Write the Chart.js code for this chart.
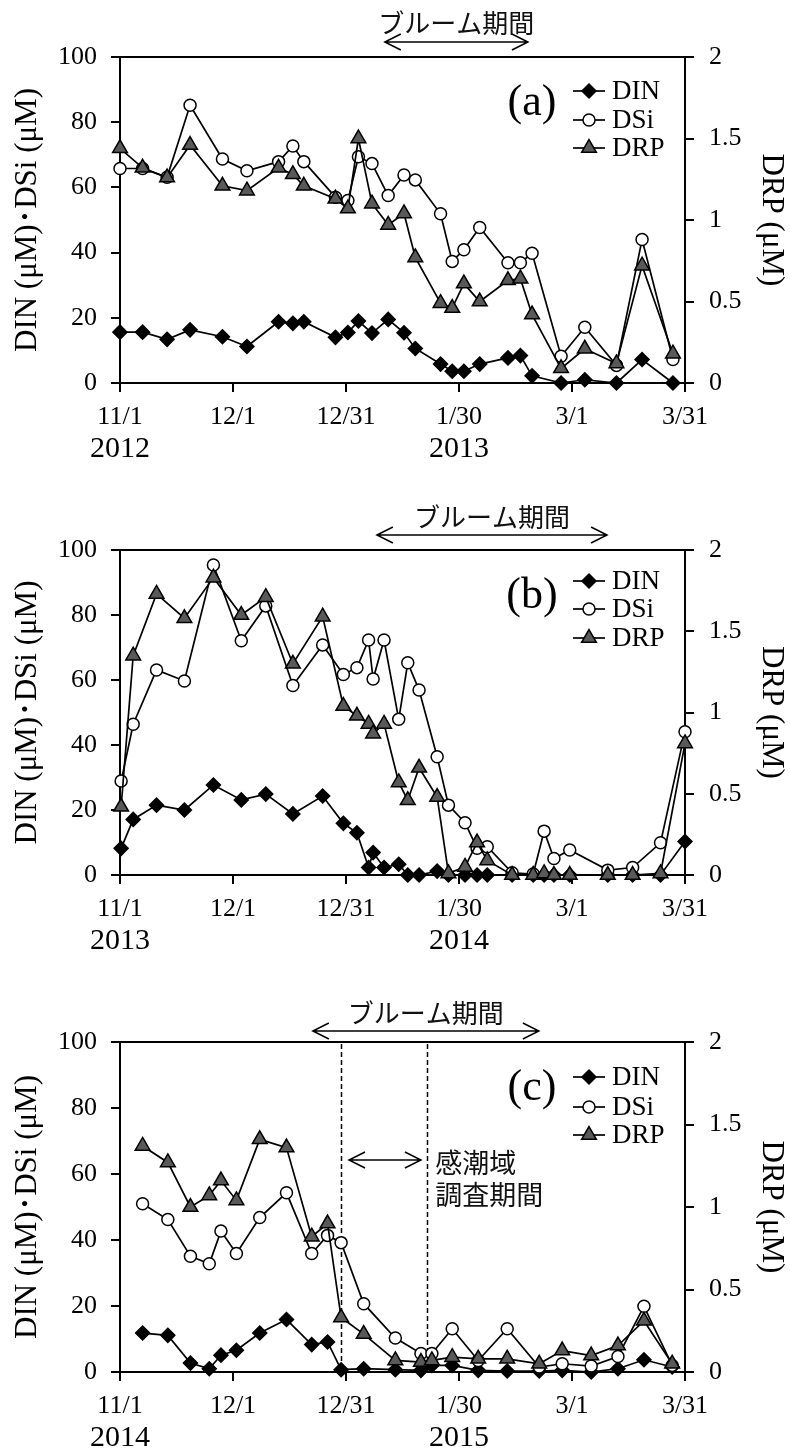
<!DOCTYPE html>
<html><head><meta charset="utf-8">
<script src="https://cdn.jsdelivr.net/npm/chart.js@4.4.0/dist/chart.umd.min.js"></script>
<style>
html,body{margin:0;padding:0;background:#fff;}
body{width:790px;height:1450px;position:relative;overflow:hidden;}
canvas{position:absolute;left:0;}
</style></head><body>
<canvas id="ca" width="790" height="493" style="top:0px"></canvas>
<canvas id="cb" width="790" height="492" style="top:493px"></canvas>
<canvas id="cc" width="790" height="465" style="top:985px"></canvas>
<script>
// ---------- data ----------
const xTickDays = [0, 30, 60, 90, 120, 150];
const xTickLabels = ['11/1', '12/1', '12/31', '1/30', '3/1', '3/31'];
const seriesNames = ['DIN', 'DSi', 'DRP'];
const leftTitle = 'DIN (μM)･DSi (μM)';
const rightTitle = 'DRP (μM)';
const bloomLabel = 'ブルーム期間';
const surveyLabel = ['感潮域', '調査期間'];

// panel (a) 2012-2013 : days since 11/1
const yearsA = ['2012', '2013'];
const daysA = [0, 6, 12.5, 18.6, 27.2, 33.7, 42.1, 45.9, 48.8, 57.2, 60.5, 63.3, 66.9, 71.2, 75.4, 78.4, 85.1, 88.2, 91.3, 95.5, 103, 106.3, 109.4, 117.1, 123.4, 131.8, 138.6, 146.8];
const dinA = [15.6, 15.6, 13.4, 16.3, 14.2, 11.2, 18.8, 18.3, 18.8, 14.0, 15.5, 19.0, 15.3, 19.5, 15.4, 10.6, 5.8, 3.6, 3.6, 5.8, 7.7, 8.4, 2.2, 0, 1.0, 0, 7.2, 0];
const dsiA = [65.8, 65.8, 63.1, 85.2, 68.7, 65.1, 67.9, 72.7, 67.9, 57.0, 56.0, 69.4, 67.3, 57.5, 63.8, 62.3, 51.9, 37.3, 40.9, 47.7, 36.9, 36.9, 39.8, 8.2, 17.1, 5.4, 44.0, 7.2];
const drpA = [1.44, 1.32, 1.26, 1.46, 1.21, 1.18, 1.32, 1.28, 1.21, 1.13, 1.07, 1.50, 1.10, 0.97, 1.04, 0.77, 0.49, 0.46, 0.61, 0.50, 0.63, 0.64, 0.42, 0.09, 0.21, 0.12, 0.72, 0.18];
const bloomA = [70.3, 108.3];

// panel (b) 2013-2014
const yearsB = ['2013', '2014'];
const daysB = [0.3, 3.5, 9.7, 17.1, 24.8, 32.2, 38.7, 45.9, 53.8, 59.3, 62.9, 66, 67.2, 70.1, 74, 76.4, 79.4, 84.2, 87.2, 91.6, 94.8, 97.5, 104.1, 109.7, 112.6, 115.2, 119.4, 129.5, 136.1, 143.5, 150];
const dinB = [8.2, 17.1, 21.5, 20.0, 27.7, 23.1, 24.9, 18.8, 24.3, 15.9, 13.0, 2.3, 6.9, 2.3, 3.3, 0, 0, 1.2, 0, 0, 0, 0, 0, 0, 0, 0, 0, 0, 0, 0, 10.3];
const dsiB = [28.9, 46.4, 63.1, 59.7, 95.4, 72.1, 82.8, 58.3, 70.8, 61.7, 63.8, 72.3, 60.3, 72.3, 47.9, 65.3, 56.9, 36.4, 21.5, 16.1, 8.2, 8.7, 0.7, 0.3, 13.5, 5.1, 7.7, 1.5, 2.3, 9.9, 44.1];
const drpB = [0.42, 1.35, 1.73, 1.58, 1.83, 1.60, 1.71, 1.30, 1.59, 1.04, 0.98, 0.93, 0.87, 0.93, 0.57, 0.46, 0.66, 0.48, 0.01, 0.05, 0.20, 0.09, 0, 0, 0.01, 0, 0, 0, 0, 0.01, 0.81];
const bloomB = [68.2, 129.3];

// panel (c) 2014-2015
const yearsC = ['2014', '2015'];
const daysC = [6, 12.7, 18.7, 23.7, 26.8, 30.9, 37.1, 44.2, 50.9, 55.1, 58.7, 64.7, 73.1, 79.9, 82.8, 88.2, 95.1, 102.8, 111.3, 117.4, 125.1, 132.2, 139.1, 146.6];
const dinC = [11.8, 11.1, 2.7, 1.0, 5.1, 6.6, 11.8, 15.9, 8.3, 9.1, 0.7, 1.0, 0.7, 0.5, 2.0, 2.0, 0.5, 0.3, 0.3, 0.5, 0, 1.0, 3.7, 1.5];
const dsiC = [51.0, 46.2, 35.1, 32.8, 42.7, 35.9, 46.8, 54.3, 35.9, 41.4, 39.2, 20.7, 10.3, 5.6, 5.6, 13.1, 3.5, 13.1, 1.5, 2.5, 1.8, 4.7, 19.9, 2.0];
const drpC = [1.37, 1.27, 1.00, 1.07, 1.16, 1.04, 1.41, 1.36, 0.82, 0.90, 0.33, 0.23, 0.07, 0.06, 0.07, 0.09, 0.08, 0.08, 0.05, 0.13, 0.10, 0.16, 0.31, 0.05];
const bloomC = [51.2, 111.2];
const surveyC = [58.7, 81.6];
const surveyArrowC = [60.8, 79.9];

// ---------- styling ----------
const SERIF = '"Liberation Serif", "Times New Roman", serif';
const CJK = '"Noto Sans CJK JP", sans-serif';
const styles = {
  DIN: { pointStyle: 'rectRot', radius: 7, fill: '#000' },
  DSi: { pointStyle: 'circle', radius: 6, fill: '#fff' },
  DRP: { pointStyle: 'triangle', radius: 8.5, fill: '#595959' }
};

function makeDatasets(days, din, dsi, drp) {
  const pts = arr => days.map((d, i) => ({ x: d, y: arr[i] }));
  const vals = { DIN: din, DSi: dsi, DRP: drp };
  const order = { DIN: 2, DSi: 1, DRP: 0 };
  return seriesNames.map(n => ({
    label: n,
    data: pts(vals[n]),
    yAxisID: n === 'DRP' ? 'y2' : 'y',
    borderColor: '#000', borderWidth: 1.7, tension: 0,
    pointStyle: styles[n].pointStyle,
    pointRadius: styles[n].radius,
    pointBackgroundColor: styles[n].fill,
    pointBorderColor: '#000', pointBorderWidth: 1.5,
    clip: false, order: order[n]
  }));
}

function arrow(ctx, x1, x2, y, hl, hh) {
  ctx.beginPath();
  ctx.moveTo(x1, y); ctx.lineTo(x2, y);
  ctx.moveTo(x1 + hl, y - hh); ctx.lineTo(x1, y); ctx.lineTo(x1 + hl, y + hh);
  ctx.moveTo(x2 - hl, y - hh); ctx.lineTo(x2, y); ctx.lineTo(x2 - hl, y + hh);
  ctx.stroke();
}

const decoPlugin = {
  id: 'deco',
  beforeDatasetsDraw(chart, args, o) {
    if (!o.survey) return;
    const { ctx, chartArea: ca, scales } = chart;
    ctx.save();
    ctx.strokeStyle = '#000'; ctx.lineWidth = 1.5; ctx.setLineDash([5, 3]);
    o.survey.forEach(d => {
      const x = Math.round(scales.x.getPixelForValue(d)) + 0.5;
      ctx.beginPath(); ctx.moveTo(x, ca.top + 2); ctx.lineTo(x, ca.bottom); ctx.stroke();
    });
    ctx.restore();
  },
  afterDraw(chart, args, o) {
    const { ctx, chartArea: ca, scales } = chart;
    const sx = scales.x;
    ctx.save();
    // bloom arrow + text
    ctx.strokeStyle = '#000'; ctx.lineWidth = 1.5;
    const bx1 = sx.getPixelForValue(o.bloom[0]), bx2 = sx.getPixelForValue(o.bloom[1]);
    arrow(ctx, bx1, bx2, ca.top - o.arrowDy, 16, 8);
    ctx.fillStyle = '#111';
    ctx.font = '26px ' + CJK;
    ctx.textAlign = 'center'; ctx.textBaseline = 'middle';
    ctx.fillText(bloomLabel, (bx1 + bx2) / 2, ca.top - o.textDy);
    // survey period
    if (o.survey) {
      const ax1 = sx.getPixelForValue(o.surveyArrow[0]), ax2 = sx.getPixelForValue(o.surveyArrow[1]);
      arrow(ctx, ax1, ax2, ca.top + 118, 16, 8);
      ctx.font = '27px ' + CJK;
      ctx.textAlign = 'left';
      const tx = sx.getPixelForValue(o.survey[1]) + 8;
      ctx.fillText(surveyLabel[0], tx, ca.top + 121);
      ctx.fillText(surveyLabel[1], tx, ca.top + 153);
    }
    // panel letter
    ctx.fillStyle = '#000';
    ctx.font = '44px ' + SERIF;
    ctx.textAlign = 'center'; ctx.textBaseline = 'middle';
    ctx.fillText(o.letter, 532, ca.top + 46);
    // legend
    seriesNames.forEach((n, i) => {
      const y = ca.top + o.legendY[i];
      ctx.strokeStyle = '#000'; ctx.lineWidth = 1.7; ctx.setLineDash([]);
      ctx.beginPath(); ctx.moveTo(573, y); ctx.lineTo(605, y); ctx.stroke();
      ctx.fillStyle = styles[n].fill; ctx.lineWidth = 1.5;
      Chart.helpers.drawPoint(ctx, { pointStyle: styles[n].pointStyle, radius: styles[n].radius, rotation: 0, borderWidth: 1.5 }, 589, y);
      ctx.fillStyle = '#000';
      ctx.font = '27px ' + SERIF;
      ctx.textAlign = 'left'; ctx.textBaseline = 'middle';
      ctx.fillText(n, 612, y + 1);
    });
    // years
    ctx.font = '30px ' + SERIF;
    ctx.textAlign = 'center'; ctx.textBaseline = 'alphabetic';
    ctx.fillText(o.years[0], sx.getPixelForValue(xTickDays[0]), ca.bottom + 74);
    ctx.fillText(o.years[1], sx.getPixelForValue(xTickDays[3]), ca.bottom + 74);
    ctx.restore();
  }
};

function makePanel(id, datasets, deco, xAxisH) {
  const tickFont = { family: SERIF, size: 26 };
  new Chart(document.getElementById(id), {
    type: 'line',
    data: { datasets },
    plugins: [decoPlugin],
    options: {
      responsive: false, animation: false, events: [],
      layout: { padding: { top: 57, left: 0, right: 0, bottom: 0 } },
      plugins: { legend: { display: false }, tooltip: { enabled: false }, deco },
      scales: {
        x: {
          type: 'linear', min: 0, max: 150, position: 'bottom',
          afterFit: s => { s.height = xAxisH; },
          afterBuildTicks: s => { s.ticks = xTickDays.map(v => ({ value: v })); },
          ticks: { color: '#000', font: tickFont, padding: 10, maxRotation: 0, autoSkip: false,
            callback: v => { const i = xTickDays.indexOf(v); return i >= 0 ? xTickLabels[i] : ''; } },
          grid: { drawOnChartArea: false, color: '#000', tickColor: '#000', tickLength: 9, tickWidth: 2, lineWidth: 2 },
          border: { display: true, color: '#000', width: 2 }
        },
        y: {
          position: 'left', min: 0, max: 100,
          afterFit: s => { s.width = 120; },
          ticks: { stepSize: 20, color: '#000', font: tickFont, padding: 14, callback: v => String(v) },
          grid: { drawOnChartArea: true, color: c => (c.tick && c.tick.value === 100) ? '#000' : 'rgba(0,0,0,0)',
            tickColor: '#000', tickLength: 9, tickWidth: 2, lineWidth: 2 },
          border: { display: true, color: '#000', width: 2 },
          title: { display: true, text: leftTitle, color: '#000', font: { family: SERIF + ', ' + CJK, size: 31, lineHeight: 1 }, padding: { top: 12, bottom: 0 } }
        },
        y2: {
          position: 'right', min: 0, max: 2,
          afterFit: s => { s.width = 105; },
          ticks: { stepSize: 0.5, color: '#000', font: tickFont, padding: 15, callback: v => String(v) },
          grid: { drawOnChartArea: false, color: '#000', tickColor: '#000', tickLength: 9, tickWidth: 2, lineWidth: 2 },
          border: { display: true, color: '#000', width: 2 },
          title: { display: true, text: rightTitle, color: '#000', font: { family: SERIF, size: 31, lineHeight: 1 }, padding: { top: 3, bottom: 0 } }
        }
      }
    }
  });
}

makePanel('ca', makeDatasets(daysA, dinA, dsiA, drpA),
  { letter: '(a)', bloom: bloomA, years: yearsA, legendY: [34, 63, 91], arrowDy: 15, textDy: 34 }, 110);
makePanel('cb', makeDatasets(daysB, dinB, dsiB, drpB),
  { letter: '(b)', bloom: bloomB, years: yearsB, legendY: [31, 59, 88], arrowDy: 15, textDy: 33 }, 110);
makePanel('cc', makeDatasets(daysC, dinC, dsiC, drpC),
  { letter: '(c)', bloom: bloomC, years: yearsC, legendY: [35, 65, 93], arrowDy: 11, textDy: 29,
    survey: surveyC, surveyArrow: surveyArrowC }, 78);
</script>
</body></html>
